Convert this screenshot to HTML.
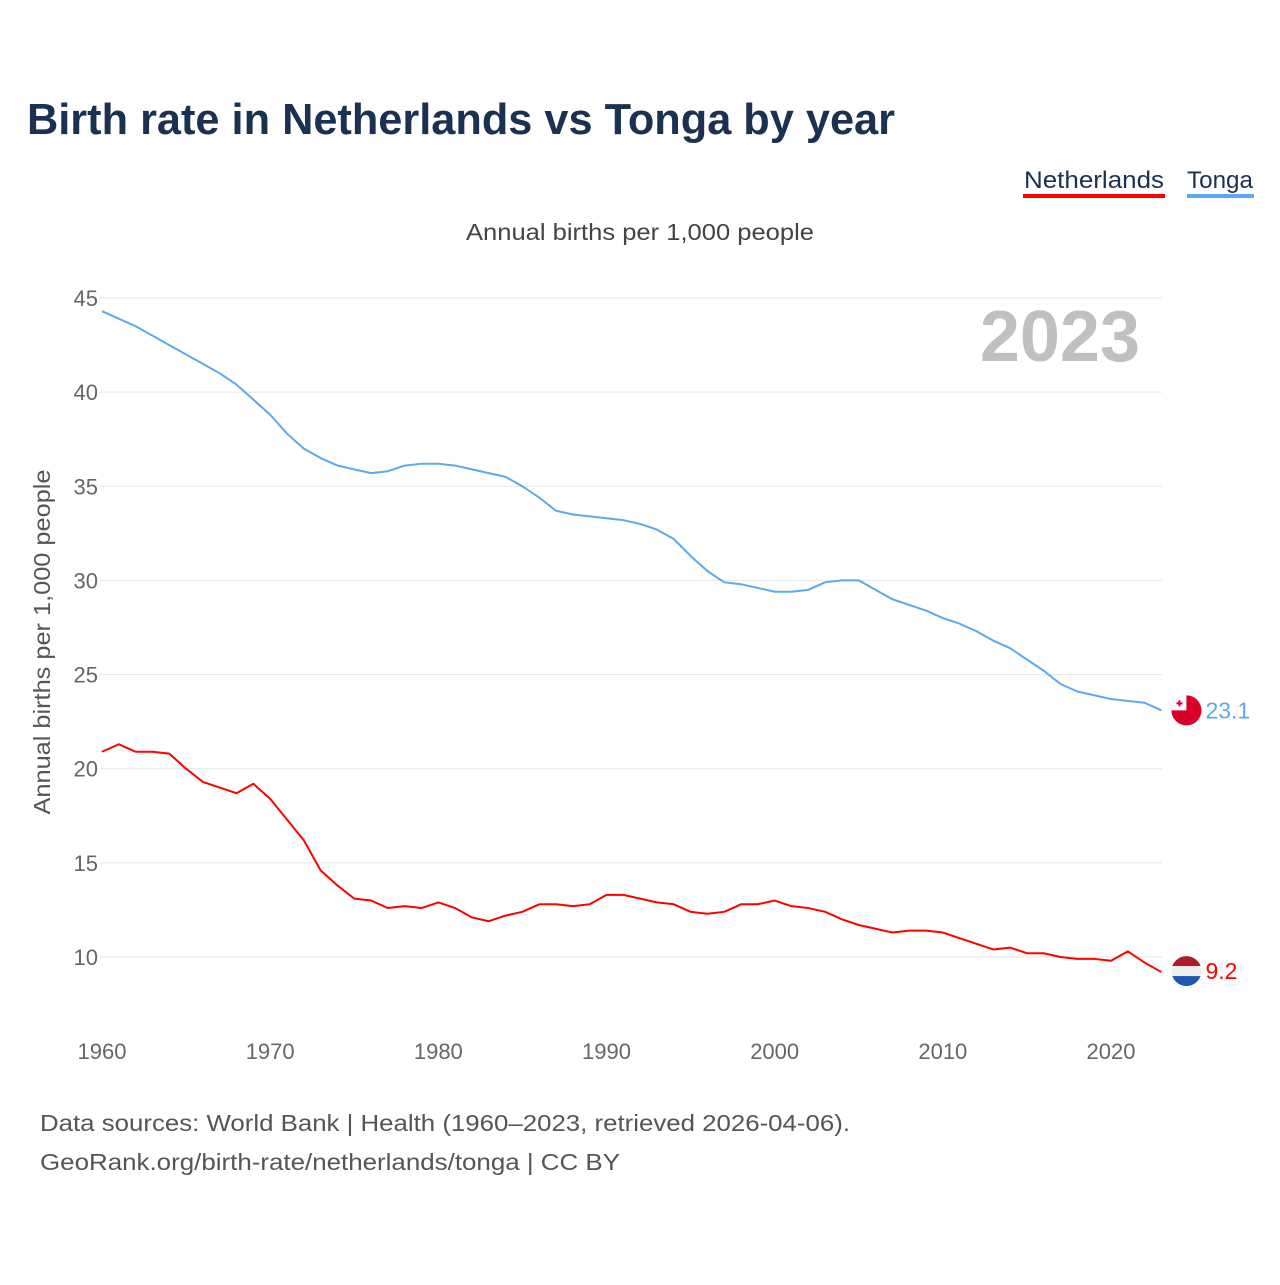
<!DOCTYPE html>
<html><head><meta charset="utf-8">
<style>
body{margin:0;background:#fff;font-family:"Liberation Sans",sans-serif;}
svg text{font-family:"Liberation Sans",sans-serif;}
</style></head>
<body>
<svg width="1280" height="1280" viewBox="0 0 1280 1280">
<text x="27" y="134" font-size="44" font-weight="bold" fill="#1b3152" textLength="868" lengthAdjust="spacingAndGlyphs">Birth rate in Netherlands vs Tonga by year</text>
<g><text x="1024" y="188" font-size="24" fill="#1b3152" textLength="140" lengthAdjust="spacingAndGlyphs">Netherlands</text><rect x="1023" y="194" width="142" height="4" fill="#ff0000"/></g>
<g><text x="1187" y="188" font-size="24" fill="#1b3152" textLength="66" lengthAdjust="spacingAndGlyphs">Tonga</text><rect x="1187" y="194" width="67" height="4" fill="#5da8ee"/></g>
<text x="466" y="240" font-size="23" fill="#444" textLength="348" lengthAdjust="spacingAndGlyphs">Annual births per 1,000 people</text>
<text x="1140" y="361" font-size="72" font-weight="bold" fill="#c0c0c0" text-anchor="end">2023</text>
<text transform="translate(50,642) rotate(-90)" font-size="23" fill="#555" text-anchor="middle" textLength="345" lengthAdjust="spacingAndGlyphs">Annual births per 1,000 people</text>
<g id="grid"></g><g id="lines"></g><g id="ends"></g>
<text x="40" y="1131" font-size="23" fill="#555" textLength="810" lengthAdjust="spacingAndGlyphs">Data sources: World Bank | Health (1960–2023, retrieved 2026-04-06).</text>
<text x="40" y="1170" font-size="23" fill="#555" textLength="580" lengthAdjust="spacingAndGlyphs">GeoRank.org/birth-rate/netherlands/tonga | CC BY</text>
</svg>
<script>
const years=[];for(let y=1960;y<=2023;y++)years.push(y);
const tonga=[44.3,43.9,43.5,43.0,42.5,42.0,41.5,41.0,40.4,39.6,38.8,37.8,37.0,36.5,36.1,35.9,35.7,35.8,36.1,36.2,36.2,36.1,35.9,35.7,35.5,35.0,34.4,33.7,33.5,33.4,33.3,33.2,33.0,32.7,32.2,31.3,30.5,29.9,29.8,29.6,29.4,29.4,29.5,29.9,30.0,30.0,29.5,29.0,28.7,28.4,28.0,27.7,27.3,26.8,26.4,25.8,25.2,24.5,24.1,23.9,23.7,23.6,23.5,23.1];
const netherlands=[20.9,21.3,20.9,20.9,20.8,20.0,19.3,19.0,18.7,19.2,18.4,17.3,16.2,14.6,13.8,13.1,13.0,12.6,12.7,12.6,12.9,12.6,12.1,11.9,12.2,12.4,12.8,12.8,12.7,12.8,13.3,13.3,13.1,12.9,12.8,12.4,12.3,12.4,12.8,12.8,13.0,12.7,12.6,12.4,12.0,11.7,11.5,11.3,11.4,11.4,11.3,11.0,10.7,10.4,10.5,10.2,10.2,10.0,9.9,9.9,9.8,10.3,9.7,9.2];
const yTicks=[10,15,20,25,30,35,40,45];
const xTicks=[1960,1970,1980,1990,2000,2010,2020];
const X=y=>102+(y-1960)*(1111-102)/60;
const Y=v=>957-(v-10)*(957-298)/35;
const NS="http://www.w3.org/2000/svg";
function mk(t,a,p){const e=document.createElementNS(NS,t);for(const k in a)e.setAttribute(k,a[k]);p.appendChild(e);return e;}
const g=document.getElementById('grid');
yTicks.forEach(v=>{
 const l=mk('line',{x1:100,x2:1162,y1:Y(v),y2:Y(v),stroke:'#e6e6e6','stroke-width':1},g);
 
 
 const t=mk('text',{x:98,y:Y(v)+8,'font-size':22,fill:'#666','text-anchor':'end'},g);t.textContent=v;
 
 
});
xTicks.forEach(v=>{
 const t=mk('text',{x:X(v),y:1059,'font-size':22,fill:'#666','text-anchor':'middle'},g);t.textContent=v;
 
 
});
const L=document.getElementById('lines');
function line(d,c,n){
 const p=mk('polyline',{points:d.map((v,i)=>X(years[i])+','+Y(v)).join(' '),fill:'none',stroke:c,'stroke-width':2,'stroke-linejoin':'round'},L);
 
 
}
line(tonga,'#5da8ee','tonga-line');line(netherlands,'#ff0000','netherlands-line');
const E=document.getElementById('ends');
const lx=X(2023);
const tv=tonga[tonga.length-1],nv=netherlands[netherlands.length-1];
const tf=mk('g',{},E);


const ty=Y(tv);
mk('circle',{cx:lx+25,cy:ty,r:15,fill:'#d8002a'},tf);
mk('path',{d:`M${lx+10} ${ty} A15 15 0 0 1 ${lx+25} ${ty-15} L${lx+25} ${ty} Z`,fill:'#fff'},tf);
mk('rect',{x:lx+15,y:ty-8,width:6,height:2,fill:'#d8002a'},tf);
mk('rect',{x:lx+17,y:ty-10,width:2,height:6,fill:'#d8002a'},tf);
const tt=mk('text',{x:lx+44,y:ty+8,'font-size':23,fill:'#5da8ee'},E);tt.textContent=tv.toFixed(1);


const nf=mk('g',{},E);


const cy=Y(nv)-1;
mk('clipPath',{id:'nc'},nf);mk('circle',{cx:lx+25,cy:cy,r:15},nf.lastChild);
const ng=mk('g',{'clip-path':'url(#nc)'},nf);
mk('rect',{x:lx+10,y:cy-15,width:30,height:10,fill:'#ae1c28'},ng);
mk('rect',{x:lx+10,y:cy-5,width:30,height:10,fill:'#eee'},ng);
mk('rect',{x:lx+10,y:cy+5,width:30,height:10,fill:'#1e56b0'},ng);
const nt=mk('text',{x:lx+44,y:cy+8,'font-size':23,fill:'#ff0000'},E);nt.textContent=nv.toFixed(1);


</script>
</body></html>
